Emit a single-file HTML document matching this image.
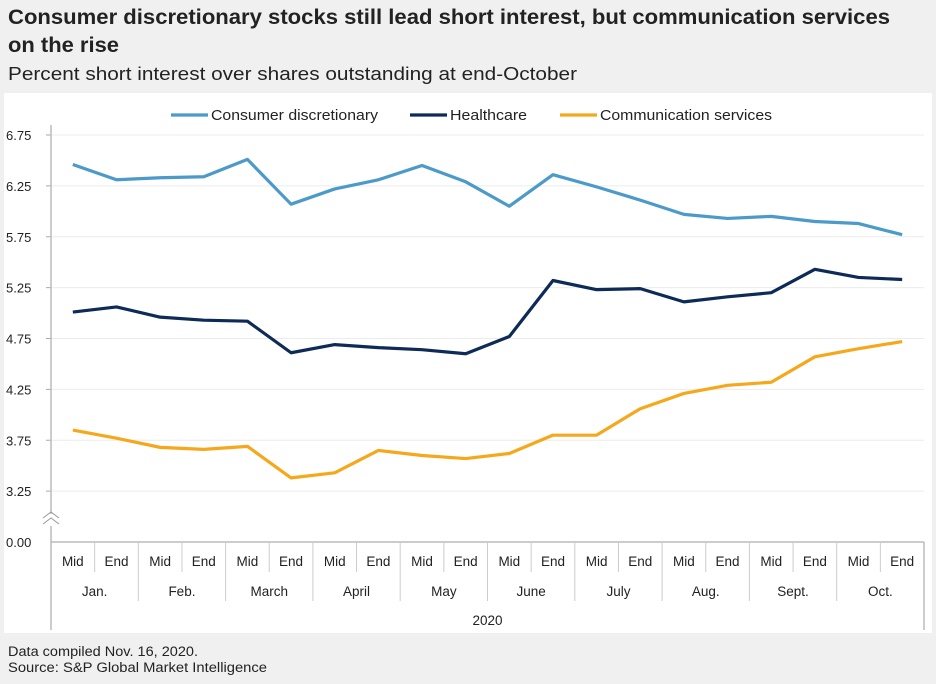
<!DOCTYPE html>
<html><head><meta charset="utf-8"><style>
body{margin:0;width:936px;height:684px;background:#f0f0f0;font-family:"Liberation Sans",sans-serif;overflow:hidden}
</style></head><body>
<svg width="936" height="684" style="position:absolute;left:0;top:0">
<text x="8" y="24" font-size="21" font-weight="bold" fill="#222" textLength="882" lengthAdjust="spacingAndGlyphs">Consumer discretionary stocks still lead short interest, but communication services</text>
<text x="8" y="52" font-size="21" font-weight="bold" fill="#222" textLength="111" lengthAdjust="spacingAndGlyphs">on the rise</text>
<text x="8" y="80" font-size="18" fill="#222" textLength="569" lengthAdjust="spacingAndGlyphs">Percent short interest over shares outstanding at end-October</text>
<rect x="4" y="93" width="928" height="540" fill="#fff"/>
<g id="g"></g>
<text x="8" y="656" font-size="13.5" fill="#222" textLength="190" lengthAdjust="spacingAndGlyphs">Data compiled Nov. 16, 2020.</text>
<text x="8" y="672" font-size="13.5" fill="#222" textLength="259" lengthAdjust="spacingAndGlyphs">Source: S&amp;P Global Market Intelligence</text>
</svg>
<script>
const months=["Jan.","Feb.","March","April","May","June","July","Aug.","Sept.","Oct."];
const halves=["Mid","End"];
const yTicks=[6.75,6.25,5.75,5.25,4.75,4.25,3.75,3.25];
const seriesNames=["Consumer discretionary","Healthcare","Communication services"];
const consumer=[6.46,6.31,6.33,6.34,6.51,6.07,6.22,6.31,6.45,6.29,6.05,6.36,6.24,6.11,5.97,5.93,5.95,5.90,5.88,5.77];
const healthcare=[5.01,5.06,4.96,4.93,4.92,4.61,4.69,4.66,4.64,4.60,4.77,5.32,5.23,5.24,5.11,5.16,5.20,5.43,5.35,5.33];
const comm=[3.85,3.77,3.68,3.66,3.69,3.38,3.43,3.65,3.60,3.57,3.62,3.80,3.80,4.06,4.21,4.29,4.32,4.57,4.65,4.72];
const colors=["#4b9ac9","#0e2a57","#f6a81c"];
const X0=51,X1=924,N=consumer.length,step=(X1-X0)/N;
const yTop=135,yPer=(542-135)/4;
const y=v=>yTop+(6.75-v)*yPer;
const x=i=>X0+step*(i+0.5);
const g=document.getElementById('g');
const NS="http://www.w3.org/2000/svg";
function mk(t,a,txt){const e=document.createElementNS(NS,t);for(const k in a)e.setAttribute(k,a[k]);if(txt!=null)e.textContent=txt;g.appendChild(e);return e;}
yTicks.forEach(v=>{
 let e=mk('line',{x1:X0,x2:X1,y1:y(v),y2:y(v),stroke:'#ececec'});
 
 e=mk('line',{x1:X0-5,x2:X0,y1:y(v),y2:y(v),stroke:'#aaa'});
 
 e=mk('text',{x:6,y:y(v)+5,'font-size':13,fill:'#222'},v.toFixed(2));
 
});
const yZero=542;
let e=mk('text',{x:6,y:yZero+5,'font-size':13,fill:'#222'},"0.00");

e=mk('line',{x1:X0,x2:X1,y1:yZero,y2:yZero,stroke:'#bbb','stroke-width':1.5});

e=mk('line',{x1:X0,x2:X0,y1:yTop-10,y2:630,stroke:'#bbb','stroke-width':1.5});

e=mk('line',{x1:X1,x2:X1,y1:yZero,y2:630,stroke:'#bbb','stroke-width':1.5});

e=mk('rect',{x:X0-3,y:514,width:6,height:12,fill:'#fff'});

e=mk('path',{d:`M${X0-8} 518 l8 -6 l8 6 M${X0-8} 524 l8 -6 l8 6`,stroke:'#999',fill:'none'});

for(let i=0;i<N;i++){
 e=mk('text',{x:x(i),y:566,'font-size':13.5,fill:'#222','text-anchor':'middle'},halves[i%2]);
 
 if(i%2==1){e=mk('line',{x1:X0+step*i,x2:X0+step*i,y1:yZero,y2:572,stroke:'#ccc'});
 }
}
months.forEach((m,j)=>{
 e=mk('text',{x:X0+step*(2*j+1),y:596,'font-size':13.5,fill:'#222','text-anchor':'middle'},m);
 
 if(j>0){e=mk('line',{x1:X0+step*2*j,x2:X0+step*2*j,y1:yZero,y2:601,stroke:'#ccc'});
 }
});
e=mk('text',{x:(X0+X1)/2,y:625,'font-size':13.5,fill:'#222','text-anchor':'middle'},"2020");

[consumer,healthcare,comm].forEach((s,k)=>{
 e=mk('polyline',{points:s.map((v,i)=>x(i)+','+y(v)).join(' '),fill:'none',stroke:colors[k],'stroke-width':3.2,'stroke-linejoin':'round'});
 
 
});
const lx=[171,410,560];
const lw=[167,77,172];
seriesNames.forEach((n,k)=>{
 e=mk('line',{x1:lx[k],x2:lx[k]+37,y1:115,y2:115,stroke:colors[k],'stroke-width':3.2});
 
 e=mk('text',{x:lx[k]+40,y:120,'font-size':15,fill:'#222',textLength:lw[k],lengthAdjust:'spacingAndGlyphs'},n);
 
});
</script>
</body></html>
